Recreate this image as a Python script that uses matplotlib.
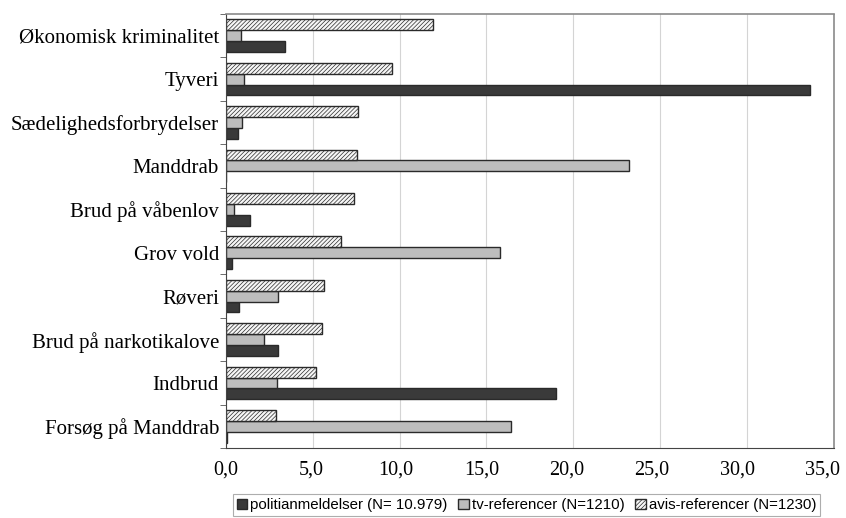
import numpy as np
import matplotlib.pyplot as plt
import matplotlib.transforms as mtransforms
from matplotlib.ticker import FixedLocator, FuncFormatter

categories = ["Økonomisk kriminalitet", "Tyveri", "Sædelighedsforbrydelser", "Manddrab",
              "Brud på våbenlov", "Grov vold", "Røveri", "Brud på narkotikalove",
              "Indbrud", "Forsøg på Manddrab"]
politi = [3.4, 33.6, 0.7, 0.0, 1.4, 0.35, 0.75, 3.0, 19.0, 0.05]
tv = [0.85, 1.05, 0.95, 23.2, 0.45, 15.8, 3.0, 2.2, 2.95, 16.4]
avis = [11.9, 9.55, 7.6, 7.55, 7.35, 6.65, 5.65, 5.55, 5.2, 2.9]

labels = ["politianmeldelser (N= 10.979)", "tv-referencer (N=1210)", "avis-referencer (N=1230)"]

plt.rcParams['hatch.color'] = '#b0b0b0'
plt.rcParams['hatch.linewidth'] = 0.5

fig = plt.figure(figsize=(8.46, 5.18), dpi=100)
ax = fig.add_axes([0.267, 0.135, 0.7187, 0.838])

y = np.arange(len(categories))
h = 0.25
edge = '#2a2a2a'
b1 = ax.barh(y + h, politi, height=h, color='#3a3a3a', edgecolor=edge, linewidth=1.0, label=labels[0])
b2 = ax.barh(y, tv, height=h, color='#bdbdbd', edgecolor=edge, linewidth=1.0, label=labels[1])
b3 = ax.barh(y - h, avis, height=h, color='#f6f6f6', edgecolor=edge, linewidth=1.0,
             hatch='////////', label=labels[2])

ax.set_xlim(0, 35)
ax.set_ylim(len(categories) - 0.5, -0.5)
ax.set_xticks(np.arange(0, 36, 5))
ax.xaxis.set_major_formatter(FuncFormatter(lambda v, p: f"{v:.1f}".replace('.', ',')))
ax.set_yticks(y)
ax.set_yticklabels(categories, family='Liberation Serif', fontsize=15)
ax.yaxis.set_minor_locator(FixedLocator(np.arange(-0.5, len(categories), 1)))
ax.tick_params(axis='y', which='major', length=0, pad=5)
ax.tick_params(axis='y', which='minor', length=4, color='#555555')
ax.tick_params(axis='x', length=0, pad=9)
xt = ax.get_xticklabels()
for i, t in enumerate(xt):
    t.set_family('Liberation Serif')
    t.set_fontsize(14.5)
    # the scan squeezes the labels slightly towards the left
    dx = -1.2 * i / 72
    t.set_transform(t.get_transform() + mtransforms.ScaledTranslation(dx, 0, fig.dpi_scale_trans))

ax.grid(axis='x', color='#d4d4d4', linewidth=0.8)
ax.set_axisbelow(True)
for s in ['top', 'right']:
    ax.spines[s].set_linestyle((0, (2, 1)))
    ax.spines[s].set_color('#8a8a8a')
    ax.spines[s].set_linewidth(1.2)
for s in ['left', 'bottom']:
    ax.spines[s].set_color('#444444')

leg = fig.legend(handles=[b1, b2, b3], labels=labels, ncol=3, loc='center',
                 bbox_to_anchor=(0.6224, 0.025), frameon=True, fancybox=False,
                 edgecolor='#999999', prop={'family': 'Liberation Sans', 'size': 10.8},
                 handlelength=0.7, handleheight=0.7, handletextpad=0.2, columnspacing=0.7,
                 borderpad=0.25)
leg.get_frame().set_linewidth(0.8)

fig.savefig("out.png", dpi=100)
